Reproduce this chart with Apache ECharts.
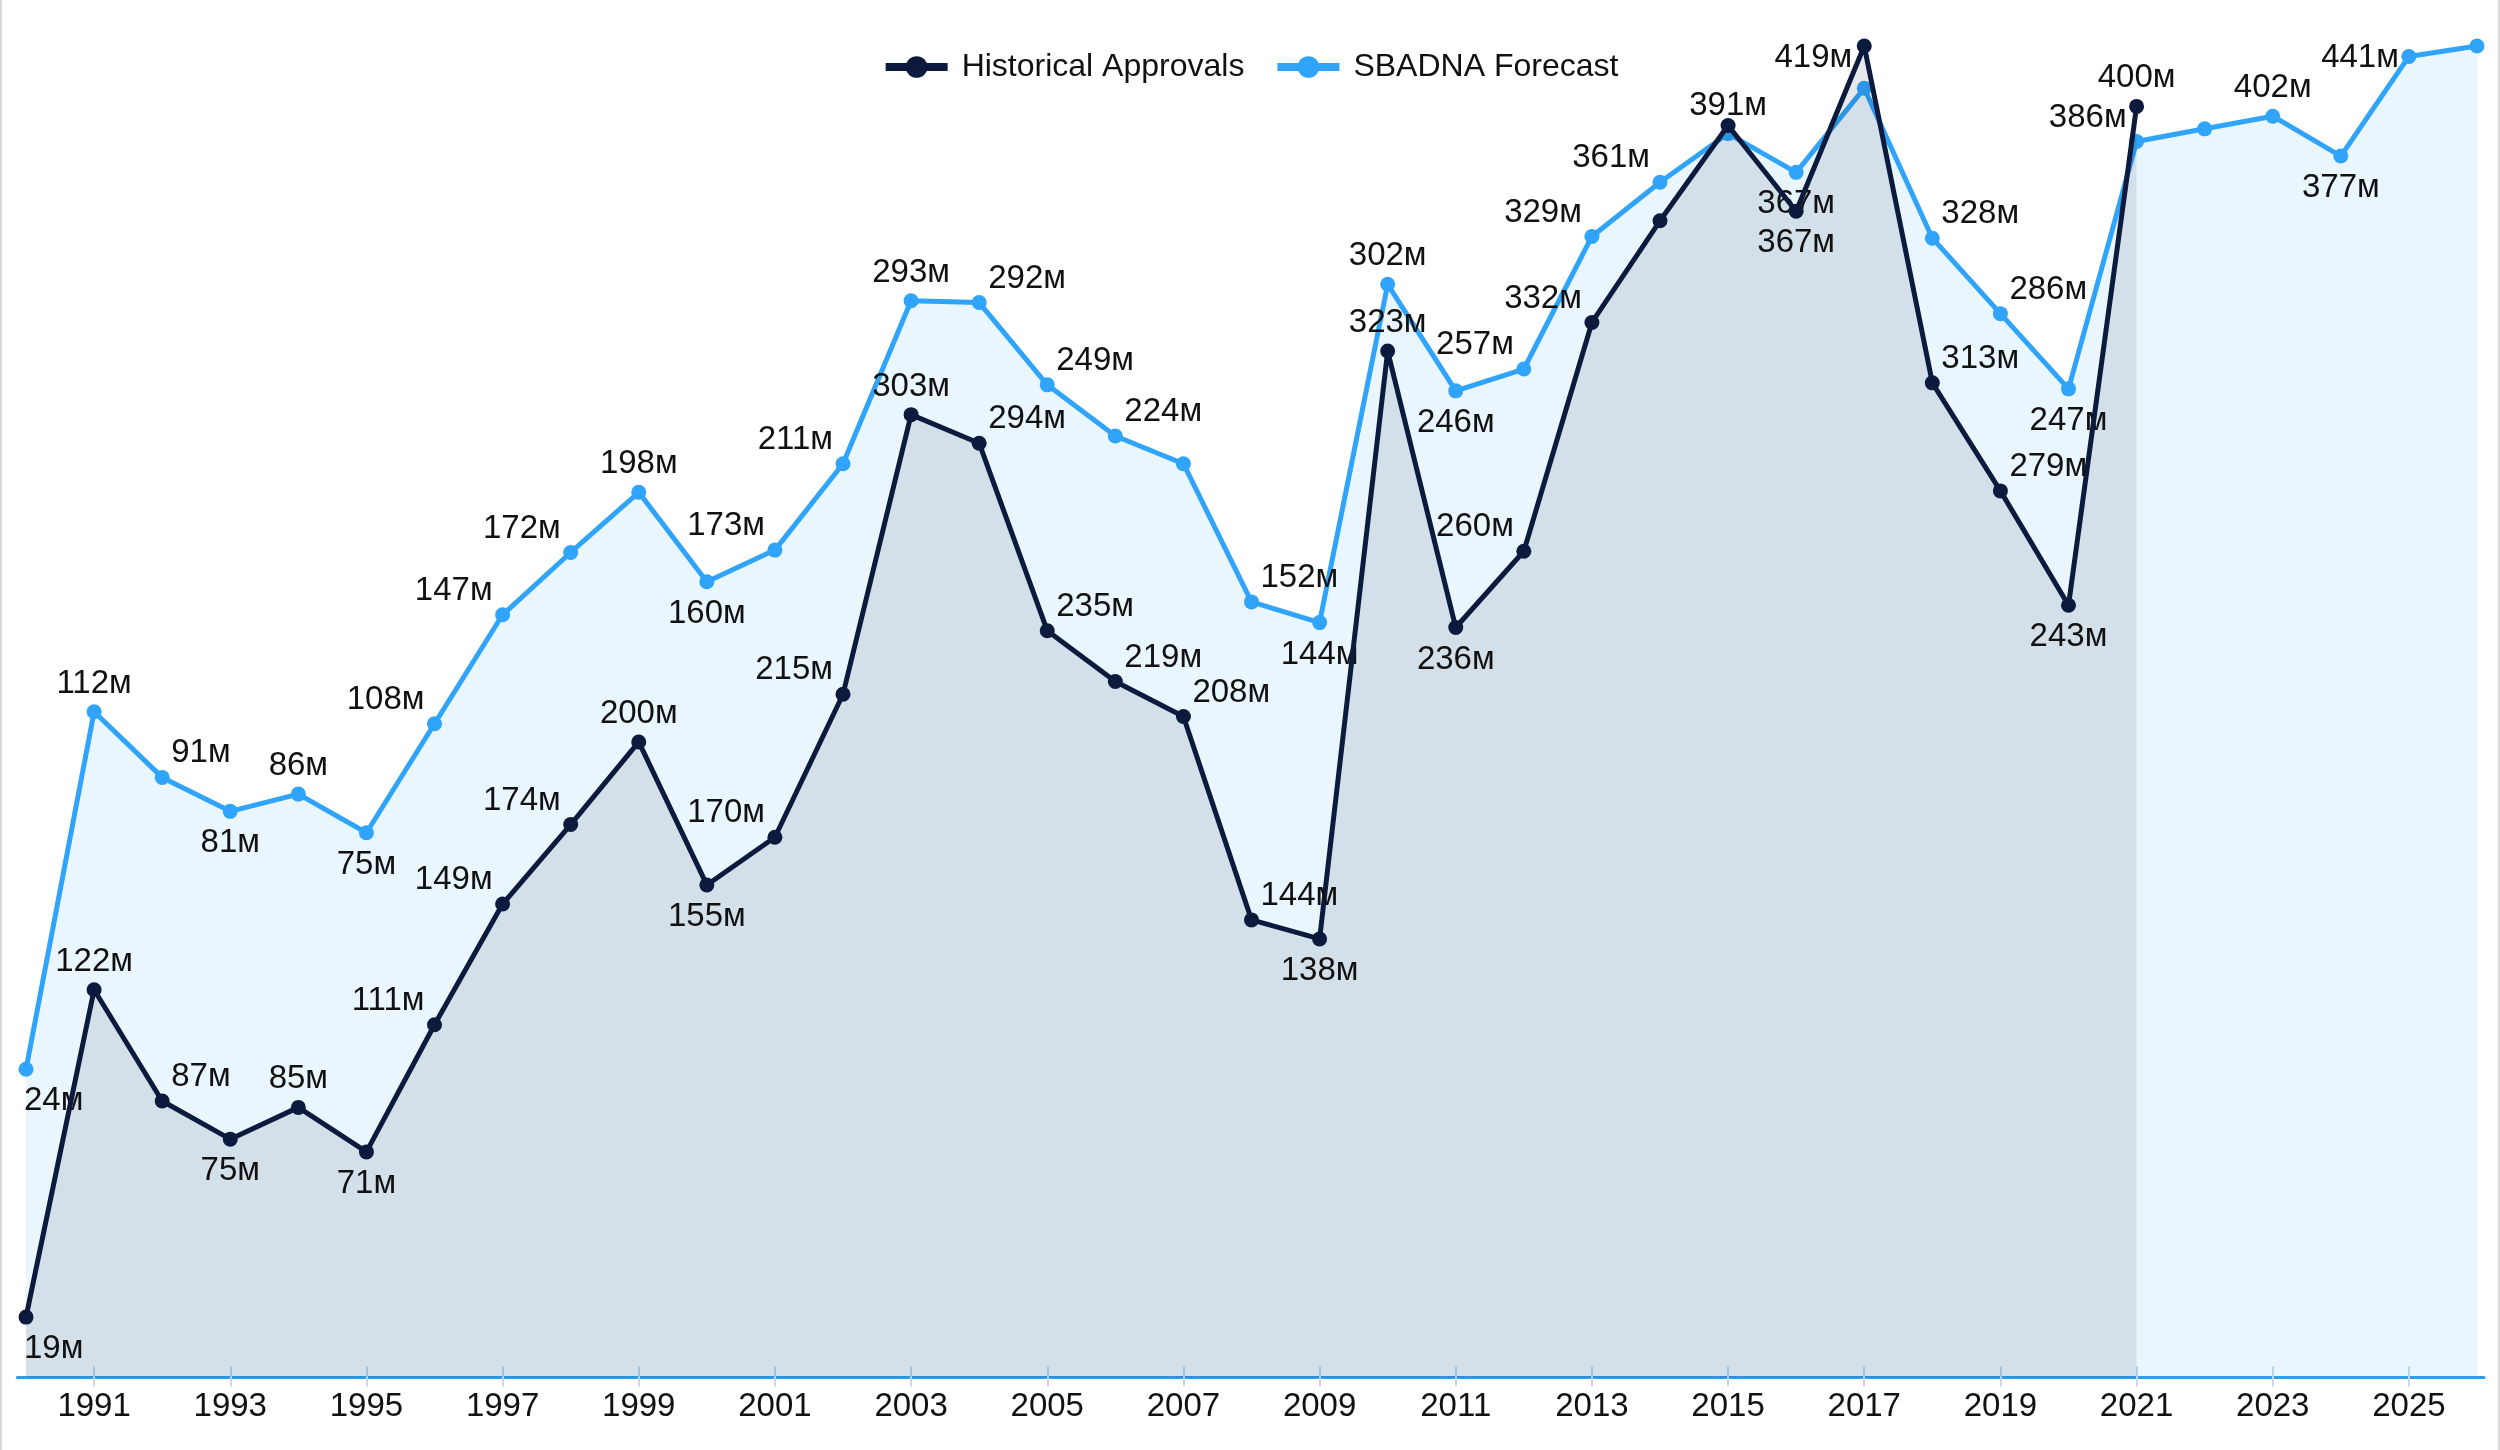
<!DOCTYPE html>
<html><head><meta charset="utf-8">
<script src="https://cdn.jsdelivr.net/npm/echarts@6/dist/echarts.min.js"></script>
<style>
html,body{margin:0;padding:0;background:#fff;}
#c{width:2500px;height:1450px;box-sizing:border-box;border-left:2px solid #d9d9d9;border-right:2px solid #d9d9d9;}
</style>
</head><body><div id="c"></div>
<script>
// ---- data ----
const histYears = [1990,1991,1992,1993,1994,1995,1996,1997,1998,1999,2000,2001,2002,2003,2004,2005,2006,2007,2008,2009,2010,2011,2012,2013,2014,2015,2016,2017,2018,2019,2020,2021];
const histValues = [19,122,87,75,85,71,111,149,174,200,155,170,215,303,294,235,219,208,144,138,323,236,260,332,364,394,367,419,313,279,243,400];
const forecastYears = [1990,1991,1992,1993,1994,1995,1996,1997,1998,1999,2000,2001,2002,2003,2004,2005,2006,2007,2008,2009,2010,2011,2012,2013,2014,2015,2016,2017,2018,2019,2020,2021,2022,2023,2024,2025,2026];
const forecastValues = [24,112,91,81,86,75,108,147,172,198,160,173,211,293,292,249,224,211,152,144,302,246,257,329,361,391,367,420,328,286,247,386,394,402,377,441,448];
const tickYears = [1991,1993,1995,1997,1999,2001,2003,2005,2007,2009,2011,2013,2015,2017,2019,2021,2023,2025];
const hiddenHistLabels = [2014,2015];
const hiddenForecastLabels = [2007,2017,2022,2026];
const seriesNames = ['Historical Approvals','SBADNA Forecast'];

const FONT = "'Liberation Sans', Arial, Helvetica, sans-serif";
const HIST_COLOR = '#0c1a3d';
const FC_COLOR = '#2fa4fa';
const SYM = 15;
const TOP_LIMIT = 58;
const LABEL_SIZE = 33;

const chart = echarts.init(document.getElementById('c'), null, {renderer:'canvas'});

function placement(vals, i){
  const v = vals[i], p = vals[i-1], n = vals[i+1];
  if (p === undefined) return n > v ? 'below' : 'above';
  if (n === undefined) return p < v ? 'above' : 'below';
  if (p < v && n < v) return 'above';
  if (p > v && n > v) return 'below';
  if (p < v) return 'left';
  return 'right';
}

function makeLabel(vals, i, hidden, year, py){
  if (hidden.indexOf(year) >= 0) return {show:false};
  const pl = placement(vals, i);
  let dx = 0, dy = 0, align = 'center';
  if (pl === 'above'){ dy = -28; }
  else if (pl === 'below'){ dy = 32; }
  else if (pl === 'left'){ dx = -10; dy = -24; align = 'right'; }
  else { dx = 9; dy = -24; align = 'left'; }
  if (i === 0 && align === 'center'){ align = 'left'; dx = -2; }
  if (py != null && py + dy < TOP_LIMIT){
    dy = TOP_LIMIT - py;
    if (align === 'center'){ align = 'right'; dx = -12; }
  }
  return {
    show:true,
    position:[SYM/2 + dx, SYM/2 + dy],
    align:align, verticalAlign:'middle',
    formatter: vals[i] + 'м',
    fontSize:LABEL_SIZE, color:'#111', fontFamily:FONT
  };
}

function buildData(years, vals, transform, hidden, pys){
  return years.map((y, i) => ({
    value:[y, transform(vals[i])],
    label: makeLabel(vals, i, hidden, y, pys ? pys[i] : null)
  }));
}

const ident = v => v;
const sqrtT = v => Math.sqrt(v);

function option(pysH, pysF){
  return {
    animation:false,
    backgroundColor:'#fff',
    textStyle:{fontFamily:FONT},
    legend:{
      top:46, left:'center',
      itemWidth:62, itemHeight:27, itemGap:29,
      data:seriesNames,
      lineStyle:{width:8},
      textStyle:{fontSize:32, color:'#111', fontFamily:FONT, padding:[0,0,0,9]}
    },
    grid:{left:15.3, right:14, top:46, bottom:72.5},
    xAxis:[{
      type:'value', min:1989.872, max:2026.103, position:'bottom',
      axisLine:{show:true, lineStyle:{color:'#2d9ff0', width:3}},
      axisTick:{show:true, customValues:tickYears, length:9, lineStyle:{color:'#c9d9ea', width:2}},
      axisLabel:{show:true, customValues:tickYears, formatter:v => String(v), fontSize:LABEL_SIZE, color:'#111', margin:13, fontFamily:FONT},
      splitLine:{show:false}
    },{
      type:'value', min:1989.872, max:2026.103, position:'bottom',
      axisLine:{show:false},
      axisTick:{show:true, inside:true, customValues:tickYears, length:11, lineStyle:{color:'#c9d9ea', width:2}},
      axisLabel:{show:false},
      splitLine:{show:false}
    }],
    yAxis:[
      {type:'value', min:0, max:'dataMax', show:false, splitLine:{show:false}},
      {type:'value', min:0, max:'dataMax', show:false, splitLine:{show:false}}
    ],
    series:[
      {
        name:seriesNames[1], type:'line', yAxisIndex:1, xAxisIndex:0,
        data:buildData(forecastYears, forecastValues, sqrtT, hiddenForecastLabels, pysF),
        symbol:'circle', symbolSize:SYM, showSymbol:true, showAllSymbol:true,
        lineStyle:{color:FC_COLOR, width:5},
        itemStyle:{color:FC_COLOR},
        areaStyle:{color:'rgba(47,164,250,0.1)', opacity:1},
        emphasis:{disabled:true}, z:2
      },
      {
        name:seriesNames[0], type:'line', yAxisIndex:0, xAxisIndex:0,
        data:buildData(histYears, histValues, ident, hiddenHistLabels, pysH),
        symbol:'circle', symbolSize:SYM, showSymbol:true, showAllSymbol:true,
        lineStyle:{color:HIST_COLOR, width:5},
        itemStyle:{color:HIST_COLOR},
        areaStyle:{color:'rgba(12,26,61,0.1)', opacity:1},
        emphasis:{disabled:true}, z:3
      }
    ]
  };
}

chart.setOption(option(null, null));
const pysH = histYears.map((y,i) => chart.convertToPixel({xAxisIndex:0, yAxisIndex:0}, [y, histValues[i]])[1]);
const pysF = forecastYears.map((y,i) => chart.convertToPixel({xAxisIndex:0, yAxisIndex:1}, [y, Math.sqrt(forecastValues[i])])[1]);
chart.setOption(option(pysH, pysF), true);
</script>
</body></html>
